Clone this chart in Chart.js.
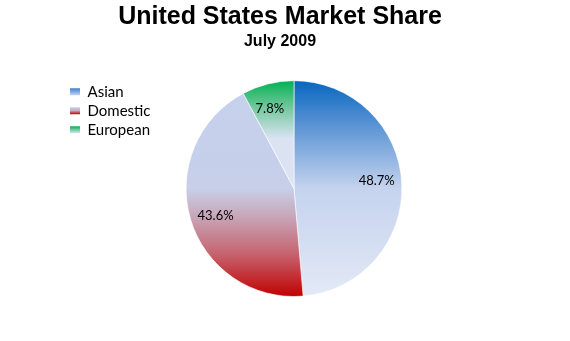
<!DOCTYPE html>
<html>
<head>
<meta charset="utf-8">
<script src="https://cdn.jsdelivr.net/npm/chart.js@4"></script>
<style>
  html, body { margin: 0; padding: 0; background: #fff; }
  #wrap { width: 570px; height: 341px; }
</style>
</head>
<body>
<div id="wrap"><canvas id="myChart" width="570" height="341"></canvas></div>
<script>
// data
const categories = ["Asian", "Domestic", "European"];
const shares = [48.7, 43.6, 7.8];

// gradient stops per slice, top of pie -> bottom of pie
const sliceStops = [
  [[0, "#0766c0"], [0.22, "#5f96d5"], [0.5, "#c5d3ee"], [1, "#e3e9f6"]],
  [[0, "#c5d1ec"], [0.5, "#c7cfe9"], [0.62, "#c8a9bc"], [0.8, "#c66470"], [1, "#c00000"]],
  [[0, "#00b050"], [0.12, "#6ec79a"], [0.27, "#dbe3f3"], [1, "#dde4f4"]]
];
// small gradients for the legend boxes
const markerStops = [
  [[0, "#3c7fcc"], [1, "#c5d3ee"]],
  [[0, "#c5d1ec"], [0.5, "#c8a9bc"], [1, "#c00000"]],
  [[0, "#00b050"], [1, "#dbe3f3"]]
];
const plainColors = ["#4f8fd3", "#c5505c", "#3fbf7f"];

function makeGradient(ctx, stops, y0, y1) {
  const g = ctx.createLinearGradient(0, y0, 0, y1);
  stops.forEach(s => g.addColorStop(s[0], s[1]));
  return g;
}

const sliceFill = (context) => {
  const chart = context.chart;
  const area = chart.chartArea;
  const i = context.dataIndex;
  if (!area) return plainColors[i];
  return makeGradient(chart.ctx, sliceStops[i], area.top, area.bottom);
};

// percent labels inside the slices
const pctLabels = {
  id: "pctLabels",
  afterDatasetsDraw(chart) {
    const ctx = chart.ctx;
    const meta = chart.getDatasetMeta(0);
    ctx.save();
    ctx.font = "13px Lato";
    ctx.fillStyle = "#000";
    ctx.textAlign = "center";
    ctx.textBaseline = "middle";
    meta.data.forEach((arc, i) => {
      const p = arc.getProps(["x", "y", "startAngle", "endAngle", "outerRadius"], true);
      const mid = (p.startAngle + p.endAngle) / 2 - 0.05;
      const r = p.outerRadius * 0.77;
      ctx.fillText(shares[i].toFixed(1) + "%", p.x + Math.cos(mid) * r, p.y + Math.sin(mid) * r);
    });
    ctx.restore();
  }
};

// legend takes little room in the layout, then gets its full width back to draw
const legendWiden = {
  id: "legendWiden",
  afterLayout(chart) {
    const lg = chart.legend;
    lg.width = 120;
    lg.right = lg.left + 120;
  }
};

const legendFont = 15, boxW = 10, boxH = 7, legendPad = 4;

const config = {
  type: "pie",
  data: {
    labels: categories,
    datasets: [{
      data: shares,
      backgroundColor: sliceFill,
      borderColor: "rgba(255,255,255,0.6)",
      borderWidth: 1
    }]
  },
  options: {
    responsive: false,
    animation: false,
    layout: { padding: { left: 66, right: 76, top: 0, bottom: 44 } },
    plugins: {
      title: {
        display: true,
        text: "United States Market Share",
        color: "#000",
        font: { family: "Liberation Sans", size: 25, weight: "bold" },
        padding: { top: 2, bottom: 0 }
      },
      subtitle: {
        display: true,
        text: "July 2009",
        color: "#000",
        font: { family: "Liberation Sans", size: 16, weight: "bold" },
        padding: { top: 0, bottom: 29 }
      },
      legend: {
        position: "left",
        align: "start",
        fullSize: false,
        maxWidth: 28,
        labels: {
          color: "#000",
          font: { family: "Lato", size: legendFont },
          boxWidth: boxW,
          boxHeight: boxH,
          padding: legendPad,
          generateLabels(chart) {
            const items = Chart.overrides.pie.plugins.legend.labels.generateLabels(chart);
            const lg = chart.legend;
            items.forEach((it, i) => {
              it.strokeStyle = "rgba(0,0,0,0)";
              it.lineWidth = 0;
              if (lg && lg.top !== undefined) {
                const y = lg.top + legendPad + i * (Math.max(legendFont, boxH) + legendPad) + (legendFont - boxH) / 2;
                it.fillStyle = makeGradient(chart.ctx, markerStops[i], y, y + boxH);
              } else {
                it.fillStyle = plainColors[i];
              }
            });
            return items;
          }
        }
      },
      tooltip: { enabled: false }
    }
  },
  plugins: [pctLabels, legendWiden]
};

const ctx = document.getElementById("myChart");
new Chart(ctx, config);
</script>
</body>
</html>
